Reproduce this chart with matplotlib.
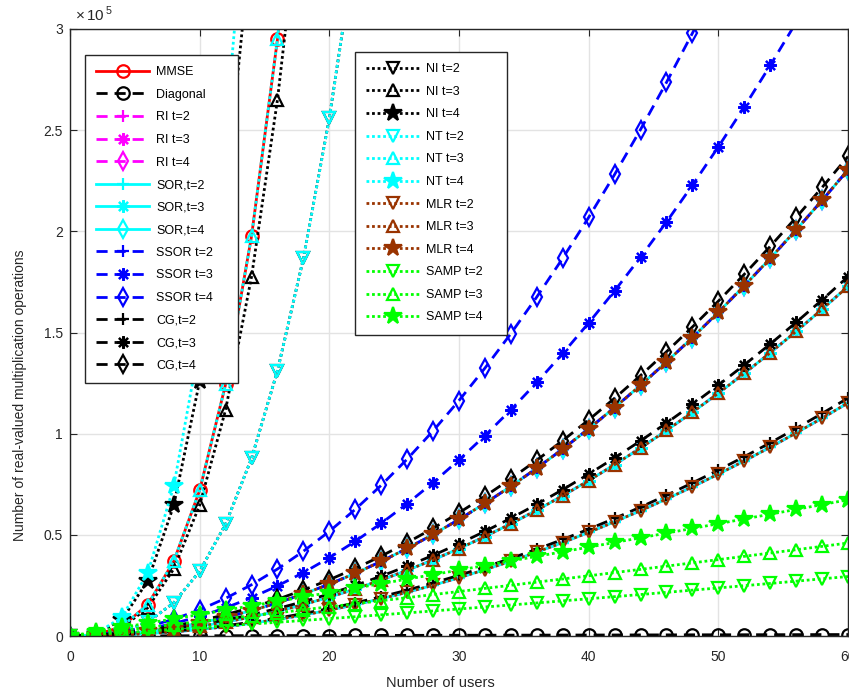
import numpy as np
import matplotlib
matplotlib.use('Agg')
import matplotlib.pyplot as plt
from matplotlib.ticker import FuncFormatter

plt.rcParams['font.family'] = ['Liberation Sans', 'DejaVu Sans']
plt.rcParams['mathtext.fontset'] = 'custom'
plt.rcParams['mathtext.rm'] = 'Liberation Sans'

# ---------------------- DATA (values in thousands) ----------------------

users = np.arange(0, 61, 2)

mmse = [0, 0.58, 4.61, 15.55, 36.86, 72.0, 124.42, 197.57, 294.91, 419.9]
diagonal = [0.0, 0.02, 0.05, 0.07, 0.1, 0.12, 0.14, 0.17, 0.19, 0.22, 0.24, 0.26, 0.29, 0.31, 0.34, 0.36,
            0.38, 0.41, 0.43, 0.46, 0.48, 0.5, 0.53, 0.55, 0.58, 0.6, 0.62, 0.65, 0.67, 0.7, 0.72]

# RI, SOR and MLR lie on top of each other in the picture
quad_t2 = [0, 0.13, 0.51, 1.15, 2.05, 3.20, 4.61, 6.27, 8.19, 10.37, 12.80, 15.49, 18.43, 21.63, 25.09, 28.80,
           32.77, 36.99, 41.47, 46.21, 51.20, 56.45, 61.95, 67.71, 73.73, 80.0, 86.53, 93.31, 100.35, 107.65, 115.2]
quad_t3 = [0, 0.19, 0.77, 1.73, 3.07, 4.80, 6.91, 9.41, 12.29, 15.55, 19.20, 23.23, 27.65, 32.45, 37.63, 43.20,
           49.15, 55.49, 62.21, 69.31, 76.80, 84.67, 92.93, 101.57, 110.59, 120.0, 129.79, 139.97, 150.53, 161.47, 172.8]
quad_t4 = [0, 0.26, 1.02, 2.30, 4.10, 6.40, 9.22, 12.54, 16.38, 20.74, 25.60, 30.98, 36.86, 43.26, 50.18, 57.60,
           65.54, 73.98, 82.94, 92.42, 102.4, 112.9, 123.9, 135.42, 147.46, 160.0, 173.06, 186.62, 200.7, 215.3, 230.4]

ssor_t3 = [0, 0.39, 1.55, 3.48, 6.19, 9.67, 13.92, 18.95, 24.76, 31.33, 38.68, 46.80, 55.70, 65.37, 75.81, 87.03,
           99.02, 111.79, 125.32, 139.63, 154.72, 170.58, 187.21, 204.62, 222.80, 241.75, 261.48, 281.98, 303.25]
ssor_t4 = [0, 0.52, 2.07, 4.65, 8.28, 12.93, 18.62, 25.34, 33.10, 41.89, 51.72, 62.58, 74.48, 87.41, 101.37,
           116.37, 132.40, 149.47, 167.57, 186.71, 206.88, 228.09, 250.32, 273.60, 297.91, 323.25]

cg_t2 = [0, 0.21, 0.67, 1.39, 2.37, 3.6, 5.09, 6.83, 8.83, 11.09, 13.6, 16.37, 19.39, 22.67, 26.21, 30.0,
         34.05, 38.35, 42.91, 47.73, 52.8, 58.13, 63.71, 69.55, 75.65, 82.0, 88.61, 95.47, 102.59, 109.97, 117.6]
cg_t3 = [0, 0.35, 1.09, 2.21, 3.71, 5.6, 7.87, 10.53, 13.57, 16.99, 20.8, 24.99, 29.57, 34.53, 39.87, 45.6,
         51.71, 58.21, 65.09, 72.35, 80.0, 88.03, 96.45, 105.25, 114.43, 124.0, 133.95, 144.29, 155.01, 166.11, 177.6]
cg_t4 = [0, 0.48, 1.46, 2.96, 4.98, 7.5, 10.54, 14.08, 18.14, 22.72, 27.8, 33.4, 39.5, 46.12, 53.26, 60.9,
         69.06, 77.72, 86.9, 96.6, 106.8, 117.52, 128.74, 140.48, 152.74, 165.5, 178.78, 192.56, 206.86, 221.68, 237.0]

nt_t2 = [0, 0.26, 2.05, 6.91, 16.38, 32.0, 55.3, 87.8, 131.07, 186.62, 256.0, 340.7]
nt_t4 = [0, 1.16, 9.25, 31.21, 73.98, 144.5, 249.7, 396.5]
ni_t3 = [0, 0.52, 4.14, 13.98, 33.13, 64.7, 111.8, 177.54, 265.0, 377.3]
ni_t4 = [0, 1.01, 8.06, 27.22, 64.51, 126.0, 217.7, 345.7]

samp_t2 = [0, 0.81, 1.62, 2.45, 3.30, 4.15, 5.02, 5.89, 6.78, 7.69, 8.6, 9.53, 10.46, 11.41, 12.38, 13.35,
           14.34, 15.33, 16.34, 17.37, 18.4, 19.45, 20.5, 21.57, 22.66, 23.75, 24.86, 25.97, 27.1, 28.25, 29.4]
samp_t3 = [0, 1.40, 2.82, 4.24, 5.67, 7.11, 8.56, 10.02, 11.48, 12.96, 14.44, 15.93, 17.43, 18.94, 20.46, 21.99,
           23.53, 25.07, 26.63, 28.19, 29.76, 31.34, 32.93, 34.53, 36.13, 37.75, 39.37, 41.01, 42.65, 44.3, 45.96]
samp_t4 = [0, 2.10, 4.22, 6.34, 8.48, 10.62, 12.77, 14.94, 17.11, 19.29, 21.48, 23.68, 25.89, 28.11, 30.34, 32.58,
           34.83, 37.09, 39.36, 41.63, 43.92, 46.22, 48.52, 50.84, 53.16, 55.5, 57.84, 60.2, 62.56, 64.94, 67.32]

red = '#ff0000'
black = '#000000'
magenta = '#ff00ff'
cyan = '#00ffff'
blue = '#0000ff'
brown = '#993300'
green = '#00ff00'
dash = (0, (4, 2.5))
dot = (0, (1, 1))
ast = (8, 2, 0)

# label, values, color, linestyle, marker
series = [
    ('MMSE', mmse, red, '-', 'o'),
    ('Diagonal', diagonal, black, dash, 'o'),
    ('RI t=2', quad_t2, magenta, dash, '+'),
    ('RI t=3', quad_t3, magenta, dash, ast),
    ('RI t=4', quad_t4, magenta, dash, 'd'),
    ('SOR,t=2', quad_t2, cyan, '-', '+'),
    ('SOR,t=3', quad_t3, cyan, '-', ast),
    ('SOR,t=4', quad_t4, cyan, '-', 'd'),
    ('SSOR t=2', quad_t4, blue, dash, '+'),
    ('SSOR t=3', ssor_t3, blue, dash, ast),
    ('SSOR t=4', ssor_t4, blue, dash, 'd'),
    ('CG,t=2', cg_t2, black, dash, '+'),
    ('CG,t=3', cg_t3, black, dash, ast),
    ('CG,t=4', cg_t4, black, dash, 'd'),
    ('NI t=2', nt_t2, black, dot, 'v'),
    ('NI t=3', ni_t3, black, dot, '^'),
    ('NI t=4', ni_t4, black, dot, '*'),
    ('NT t=2', nt_t2, cyan, dot, 'v'),
    ('NT t=3', mmse, cyan, dot, '^'),
    ('NT t=4', nt_t4, cyan, dot, '*'),
    ('MLR t=2', quad_t2, brown, dot, 'v'),
    ('MLR t=3', quad_t3, brown, dot, '^'),
    ('MLR t=4', quad_t4, brown, dot, '*'),
    ('SAMP t=2', samp_t2, green, dot, 'v'),
    ('SAMP t=3', samp_t3, green, dot, '^'),
    ('SAMP t=4', samp_t4, green, dot, '*'),
]

# ---------------------- PLOT ----------------------

fig = plt.figure(figsize=(8.49, 6.95), dpi=100)
ax = fig.add_axes([70 / 849, 1 - 636 / 695, 778 / 849, 607 / 695])

handles = []
for label, vals, color, ls, mk in series:
    vals = np.array(vals) * 1000
    face = color if mk == '*' else 'none'
    size = 13 if mk == '*' else 9
    h, = ax.plot(users[:len(vals)], vals, color=color, linestyle=ls, linewidth=2,
                 marker=mk, markersize=size, markerfacecolor=face,
                 markeredgecolor=color, markeredgewidth=1.6, label=label)
    handles.append(h)

ax.set_xlim(0, 60)
ax.set_ylim(0, 3e5)
ax.set_xticks(np.arange(0, 61, 10))
ax.set_yticks(np.arange(0, 3.01e5, 0.5e5))
ax.yaxis.set_major_formatter(FuncFormatter(lambda v, p: '%g' % (v / 1e5)))
ax.grid(True, color='#e3e3e3', linewidth=1)
ax.set_axisbelow(True)
for s in ax.spines.values():
    s.set_color('#262626')
    s.set_linewidth(1)
ax.tick_params(direction='in', length=5, labelsize=10, colors='#262626',
               top=True, right=True)
ax.tick_params(axis='x', pad=10)
ax.tick_params(axis='y', pad=5)
ax.text(0.006, 1.008, r'$\times\,10^{\,5}$', transform=ax.transAxes, fontsize=11,
        color='#262626', va='bottom', ha='left')

ax.set_xlabel('Number of users', fontsize=10.5, color='#262626')
ax.xaxis.set_label_coords((440 - 70) / 778, -(676 - 636) / 607)
ax.set_ylabel('Number of real-valued multiplication operations', fontsize=10,
              color='#262626')
ax.yaxis.set_label_coords(-(70 - 27) / 778, (636 - 395) / 607)

leg_kw = dict(fontsize=9, frameon=True, fancybox=False, framealpha=1,
              edgecolor='#262626', handlelength=4.2, handletextpad=0.6,
              labelspacing=0.845, borderpad=0.9, borderaxespad=0,
              loc='upper left', mode='expand')
leg1 = ax.legend(handles=handles[:14],
                 bbox_to_anchor=(85 / 849, 1 - 383 / 695, 153 / 849, 328 / 695),
                 bbox_transform=fig.transFigure, **leg_kw)
leg1.get_frame().set_linewidth(1)
ax.add_artist(leg1)
leg2 = ax.legend(handles=handles[14:],
                 bbox_to_anchor=(355 / 849, 1 - 334 / 695, 152 / 849, 282 / 695),
                 bbox_transform=fig.transFigure, **leg_kw)
leg2.get_frame().set_linewidth(1)

fig.savefig('out.png', dpi=100)
